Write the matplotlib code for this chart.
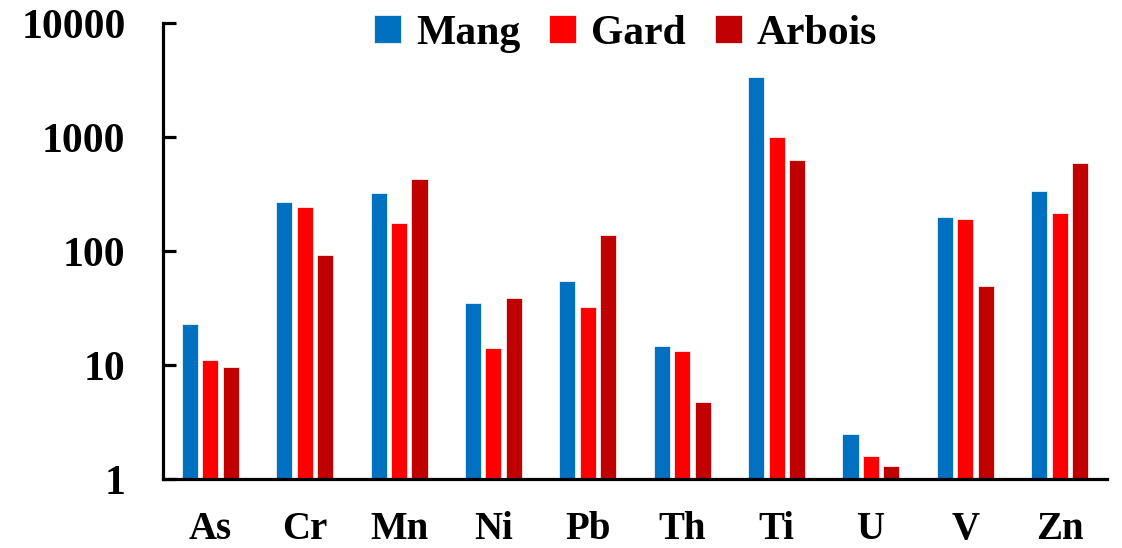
import matplotlib.pyplot as plt
import numpy as np
from matplotlib.ticker import FixedLocator, NullLocator

elements = ["As", "Cr", "Mn", "Ni", "Pb", "Th", "Ti", "U", "V", "Zn"]
mang = [23, 270, 325, 35, 55, 14.6, 3380, 2.5, 200, 333]
gard = [11, 245, 175, 14, 32, 13.2, 1000, 1.6, 192, 216]
arbois = [9.7, 93, 430, 39, 137, 4.7, 630, 1.3, 49, 590]
series = ["Mang", "Gard", "Arbois"]
colors = ["#0070C0", "#FF0000", "#C00000"]

plt.rcParams["font.family"] = ["Liberation Serif", "DejaVu Serif"]
plt.rcParams["font.weight"] = "bold"

fig = plt.figure(figsize=(11.22, 5.48), dpi=100)
ax = fig.add_axes([0.1453, 0.1259, 0.8413, 0.8321])

x = np.arange(len(elements))
w = 0.17
step = 0.217
for i, (vals, name, c) in enumerate(zip([mang, gard, arbois], series, colors)):
    ax.bar(x + (i - 1) * step, vals, width=w, color=c, label=name,
           edgecolor="white", linewidth=0.5)

ax.set_yscale("log")
ax.set_ylim(1, 10000)
ax.set_xlim(-0.5, len(elements) - 0.5)
ax.yaxis.set_major_locator(FixedLocator([1, 10, 100, 1000, 10000]))
ax.yaxis.set_minor_locator(NullLocator())
ax.set_yticklabels(["1", "10", "100", "1000", "10000"])
ax.set_xticks(x)
ax.set_xticklabels(elements)

for s in ["top", "right"]:
    ax.spines[s].set_visible(False)
for s in ["left", "bottom"]:
    ax.spines[s].set_linewidth(2.3)

ax.tick_params(axis="y", direction="in", length=9, width=2.3, pad=27,
               labelsize=30)
ax.tick_params(axis="x", length=0, pad=23, labelsize=28)
for lab in ax.get_xticklabels() + ax.get_yticklabels():
    lab.set_fontweight("bold")

ax.legend(loc="upper center", bbox_to_anchor=(0.49, 1.1), ncol=3,
          frameon=False, handlelength=0.65, handleheight=0.65,
          handletextpad=0.35, columnspacing=0.7,
          prop={"size": 30, "weight": "bold"})

fig.savefig("out.png", dpi=100)
